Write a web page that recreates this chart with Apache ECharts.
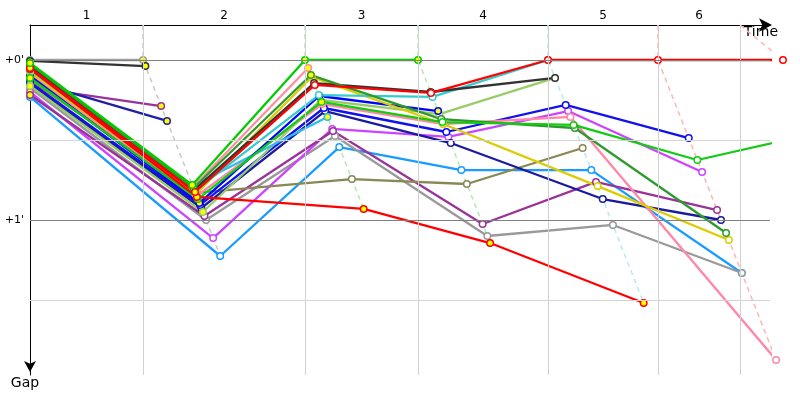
<!DOCTYPE html>
<html><head><meta charset="utf-8">
<script src="https://cdn.jsdelivr.net/npm/echarts@6/dist/echarts.min.js"></script>
<style>html,body{margin:0;padding:0;background:#fff}#c{width:800px;height:400px}</style>
</head><body><div id="c"></div>
<script>
// ---- axis data ----
const lapLabels = ['1', '2', '3', '4', '5', '6'];
const lapTicks = [1.794, 4.365, 6.159, 8.222, 9.968, 11.27];      // minutes, vertical lap lines
const leaderTimes = [1.794, 4.365, 6.159, 8.222, 9.968, 11.952];  // leader crossing time per lap
const gapTicks = [0, 1];
const gapMin = -0.21875, gapMax = 1.96875, timeMax = 11.746;

// ---- riders: gap (minutes) at start, lap1..lap6 ----
const gray1       = [0, 0];
const black1      = [0.006, 0.038];
const purple1     = [0.169, 0.288];
const navy1       = [0.131, 0.381];
const lime        = [0.019, 0.781, 0, 0];
const salmon      = [0.031, 0.794, 0.05];
const dkgreen     = [0.025, 0.8, 0.094, 0.369, 0.425, 1.081];
const black2      = [0.038, 0.812, 0.144, 0.2, 0.112];
const cyan        = [0.062, 0.819, 0.219, 0.231, 0];
const skyblue     = [0.044, 0.788, 0.356];
const yellow      = [0.075, 0.838, 0.106, 0.4, 0.788, 1.125];
const blue        = [0.1, 0.894, 0.225, 0.319];
const yellowgreen = [0.162, 0.95, 0.25, 0.338, 0.112];
const lime2       = [0.112, 0.869, 0.262, 0.388, 0.406, 0.625, 0.463];
const pink        = [0.088, 0.85, 0.275, 0.4, 0.356, 1.875];
const blue2       = [0.138, 0.906, 0.3, 0.45, 0.281, 0.488];
const navy        = [0.15, 0.925, 0.319, 0.519, 0.869, 1.0];
const olive       = [0.125, 0.831, 0.744, 0.775, 0.55];
const purple      = [0.219, 0.975, 0.444, 1.025, 0.762, 0.938];
const magenta     = [0.2, 1.113, 0.431, 0.481, 0.319, 0.7];
const gray2       = [0.175, 1.0, 0.475, 1.1, 1.031, 1.331];
const lightblue   = [0.231, 1.225, 0.544, 0.688, 0.688, 1.331];
const red         = [0.05, 0.825, 0.156, 0.206, 0, 0, 0];
const red2        = [0.056, 0.856, 0.931, 1.144, 1.519];

// laps whose marker is filled yellow (start always yellow)
const bestLaps = {
  gray1: [1], black1: [1], purple1: [1], navy1: [1], lime: [1, 2, 3], salmon: [1, 2],
  dkgreen: [1, 2], black2: [1], cyan: [1], skyblue: [1, 2], yellow: [1], blue: [1, 2, 3],
  yellowgreen: [1, 2], lime2: [1, 2], pink: [1], blue2: [], navy: [1], olive: [1],
  purple: [], magenta: [], gray2: [], lightblue: [], red: [1], red2: [1, 2, 3, 4]
};

const riders = [
  ['gray1', gray1, '#a0a0a0'], ['black1', black1, '#333333'], ['purple1', purple1, '#993399'],
  ['navy1', navy1, '#1f1fa8'], ['lightblue', lightblue, '#1a9cff'], ['gray2', gray2, '#999999'],
  ['magenta', magenta, '#cc44ff'], ['purple', purple, '#993399'], ['olive', olive, '#888855'],
  ['navy', navy, '#1a1aa0'], ['blue2', blue2, '#1111ee'], ['pink', pink, '#ff88aa'],
  ['yellowgreen', yellowgreen, '#99cc66'], ['skyblue', skyblue, '#33bbee'], ['salmon', salmon, '#ff8f9f'],
  ['blue', blue, '#0000ff'], ['yellow', yellow, '#dccc00'], ['cyan', cyan, '#33cccc'],
  ['black2', black2, '#333333'], ['dkgreen', dkgreen, '#2e9a2e'], ['lime2', lime2, '#11cc11'],
  ['red2', red2, '#ff0000'], ['red', red, '#ff0000'], ['lime', lime, '#00cc00']
];
const lapLineColors = ['#c8c8c8', '#b4e8b4', '#b4e8b4', '#b4ecec', '#ffb4b4', '#ffb4b4'];

const FONT = 'DejaVu Sans';
function pointOf(gaps, k) {
  return [k === 0 ? 0 : leaderTimes[k - 1] + gaps[k], gaps[k]];
}

const series = [];
// grid lines
const gridMarks = [];
lapTicks.forEach(t => gridMarks.push({ xAxis: t, lineStyle: { color: '#d0d0d0', width: 1, type: 'solid' } }));
[0, 0.5, 1, 1.5].forEach(g => gridMarks.push({ yAxis: g, lineStyle: { color: Number.isInteger(g) ? '#808080' : '#d4d4d4', width: 1, type: 'solid' } }));
series.push({
  type: 'line', data: [], z: 1, silent: true,
  markLine: { silent: true, symbol: ['none', 'none'], label: { show: false }, animation: false, emphasis: { disabled: true }, data: gridMarks }
});

// lap lines (dashed)
for (let k = 1; k <= 6; k++) {
  const pts = riders.filter(r => r[1].length > k).map(r => pointOf(r[1], k)).sort((a, b) => a[1] - b[1]);
  series.push({
    type: 'line', z: 2, silent: true, clip: false, symbol: 'none', animation: false,
    lineStyle: { color: lapLineColors[k - 1], width: 1.5, type: [5, 4] },
    data: [[lapTicks[k - 1], gapMin]].concat(pts)
  });
}

// riders
riders.forEach(([name, gaps, color]) => {
  const best = bestLaps[name] || [];
  series.push({
    name, type: 'line', z: 3, silent: true, clip: false, animation: false,
    symbol: 'circle', symbolSize: 6.5, showAllSymbol: true,
    itemStyle: { color: '#ffffff', borderColor: color, borderWidth: 1.5 },
    lineStyle: { color, width: 2.3 },
    emphasis: { disabled: true },
    data: gaps.map((g, k) => ({
      value: pointOf(gaps, k),
      itemStyle: (k === 0 || best.includes(k)) ? { color: '#ffff00' } : undefined
    }))
  });
});

const bounds = [0].concat(lapTicks);
const mids = lapLabels.map((_, i) => (bounds[i] + bounds[i + 1]) / 2);

const chart = echarts.init(document.getElementById('c'), null, { renderer: 'canvas' });
chart.setOption({
  animation: false,
  backgroundColor: '#ffffff',
  grid: { left: 30, right: 30, top: 25, bottom: 25, containLabel: false },
  xAxis: {
    type: 'value', position: 'top', min: 0, max: timeMax,
    axisLine: { show: true, onZero: false, lineStyle: { color: '#000', width: 1 }, symbol: ['none', 'arrow'], symbolSize: [10, 13], symbolOffset: [0, 2] },
    axisTick: { show: false }, splitLine: { show: false },
    axisLabel: {
      customValues: mids, color: '#000', fontSize: 12, fontFamily: FONT, margin: 3,
      formatter: v => { let bi = 0; mids.forEach((m, i) => { if (Math.abs(m - v) < Math.abs(mids[bi] - v)) bi = i; }); return lapLabels[bi]; }
    },
    name: 'Time', nameLocation: 'end', nameGap: 8,
    nameTextStyle: { align: 'right', verticalAlign: 'top', fontSize: 14, color: '#000', fontFamily: FONT }
  },
  yAxis: {
    type: 'value', inverse: true, min: gapMin, max: gapMax,
    axisLine: { show: true, onZero: false, lineStyle: { color: '#000', width: 1 }, symbol: ['arrow', 'none'], symbolSize: [9, 11], symbolOffset: [3, 0] },
    axisTick: { show: false }, splitLine: { show: false },
    axisLabel: { customValues: gapTicks, color: '#000', fontSize: 11, fontFamily: FONT, margin: 6, formatter: v => '+' + Math.round(v) + "'" },
    name: 'Gap', nameLocation: 'end', nameGap: 1,
    nameTextStyle: { align: 'center', verticalAlign: 'top', fontSize: 14, color: '#000', fontFamily: FONT, padding: [0, 10, 0, 0] }
  },
  series
});
</script></body></html>
